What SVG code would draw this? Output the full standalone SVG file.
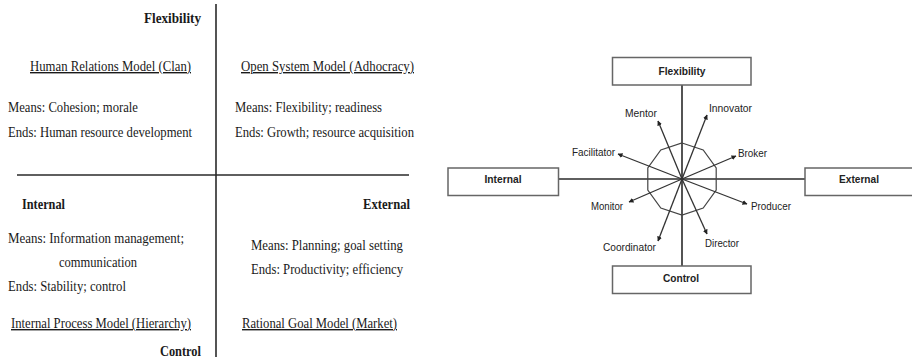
<svg xmlns="http://www.w3.org/2000/svg" width="912" height="360" viewBox="0 0 912 360">
<style>
.s{font-family:"Liberation Serif","Times New Roman",serif;font-size:14px;fill:#1a1a1a}
.sb{font-family:"Liberation Serif","Times New Roman",serif;font-size:14px;font-weight:bold;fill:#1a1a1a}
.u{text-decoration:underline}
.ax{stroke:#2a2a2a;stroke-width:1.6;fill:none}
.box{fill:#fff;stroke:#666;stroke-width:1.5}
.bl{font-family:"Liberation Sans",Arial,sans-serif;font-size:11px;font-weight:bold;fill:#222;text-anchor:middle}
.al{font-family:"Liberation Sans",Arial,sans-serif;font-size:10.5px;fill:#222}
.arr{stroke:#333;stroke-width:1.3;fill:none}
</style>
<defs>
<marker id="ah" viewBox="0 0 10 10" refX="9" refY="5" markerWidth="5" markerHeight="5" orient="auto" markerUnits="userSpaceOnUse">
<path d="M0,0 L10,5 L0,10 z" fill="#222"/>
</marker>
</defs>
<rect width="912" height="360" fill="#fff"/>

<g id="left-panel">
<line class="ax" x1="216" y1="4" x2="216" y2="357"/>
<line class="ax" x1="17" y1="175" x2="409" y2="175"/>
<text class="sb" x="201" y="23" text-anchor="end" textLength="57" lengthAdjust="spacingAndGlyphs">Flexibility</text>
<text class="s u" x="30" y="71" textLength="161" lengthAdjust="spacingAndGlyphs">Human Relations Model (Clan)</text>
<text class="s u" x="241" y="71" textLength="173" lengthAdjust="spacingAndGlyphs">Open System Model (Adhocracy)</text>
<text class="s" x="8" y="112" textLength="130" lengthAdjust="spacingAndGlyphs">Means: Cohesion; morale</text>
<text class="s" x="8" y="137" textLength="184" lengthAdjust="spacingAndGlyphs">Ends: Human resource development</text>
<text class="s" x="235" y="112" textLength="147" lengthAdjust="spacingAndGlyphs">Means: Flexibility; readiness</text>
<text class="s" x="235" y="137" textLength="179" lengthAdjust="spacingAndGlyphs">Ends: Growth; resource acquisition</text>
<text class="sb" x="22" y="209" textLength="43" lengthAdjust="spacingAndGlyphs">Internal</text>
<text class="sb" x="363" y="209" textLength="47" lengthAdjust="spacingAndGlyphs">External</text>
<text class="s" x="8" y="243" textLength="176" lengthAdjust="spacingAndGlyphs">Means: Information management;</text>
<text class="s" x="59" y="267" textLength="78" lengthAdjust="spacingAndGlyphs">communication</text>
<text class="s" x="8" y="291" textLength="118" lengthAdjust="spacingAndGlyphs">Ends: Stability; control</text>
<text class="s u" x="11" y="328" textLength="180" lengthAdjust="spacingAndGlyphs">Internal Process Model (Hierarchy)</text>
<text class="sb" x="201" y="356" text-anchor="end" textLength="41" lengthAdjust="spacingAndGlyphs">Control</text>
<text class="s" x="251" y="250" textLength="152" lengthAdjust="spacingAndGlyphs">Means: Planning; goal setting</text>
<text class="s" x="251" y="274" textLength="152" lengthAdjust="spacingAndGlyphs">Ends: Productivity; efficiency</text>
<text class="s u" x="242" y="328" textLength="155" lengthAdjust="spacingAndGlyphs">Rational Goal Model (Market)</text>
</g>

<g id="connectors">
<line class="ax" x1="682" y1="85" x2="682" y2="266"/>
<line class="ax" x1="558" y1="179" x2="805" y2="179"/>
<polygon points="682,143 703.2,149.9 716.2,167.9 716.2,190.1 703.2,208.1 682,215 660.8,208.1 647.8,190.1 647.8,167.9 660.8,149.9" fill="none" stroke="#444" stroke-width="1.2"/>
<line class="arr" x1="682" y1="179" x2="658" y2="121" marker-end="url(#ah)"/>
<line class="arr" x1="682" y1="179" x2="707" y2="115" marker-end="url(#ah)"/>
<line class="arr" x1="682" y1="179" x2="618" y2="154" marker-end="url(#ah)"/>
<line class="arr" x1="682" y1="179" x2="736" y2="156" marker-end="url(#ah)"/>
<line class="arr" x1="682" y1="179" x2="629" y2="202" marker-end="url(#ah)"/>
<line class="arr" x1="682" y1="179" x2="747" y2="204" marker-end="url(#ah)"/>
<line class="arr" x1="682" y1="179" x2="658" y2="241" marker-end="url(#ah)"/>
<line class="arr" x1="682" y1="179" x2="707" y2="234" marker-end="url(#ah)"/>
</g>

<g id="node-flexibility">
<rect class="box" x="612.5" y="57.5" width="138.5" height="27.5"/>
<text class="bl" x="682" y="75" textLength="47" lengthAdjust="spacingAndGlyphs">Flexibility</text>
</g>
<g id="node-internal">
<rect class="box" x="448" y="168" width="110.5" height="27.5"/>
<text class="bl" x="503" y="183" textLength="37" lengthAdjust="spacingAndGlyphs">Internal</text>
</g>
<g id="node-external">
<rect class="box" x="805" y="168" width="112" height="27.5"/>
<text class="bl" x="859" y="183" textLength="40" lengthAdjust="spacingAndGlyphs">External</text>
</g>
<g id="node-control">
<rect class="box" x="612.5" y="266" width="138.5" height="27.5"/>
<text class="bl" x="681" y="282" textLength="36" lengthAdjust="spacingAndGlyphs">Control</text>
</g>

<g id="node-mentor"><text class="al" x="625" y="117" textLength="32" lengthAdjust="spacingAndGlyphs">Mentor</text></g>
<g id="node-innovator"><text class="al" x="709" y="112" textLength="43" lengthAdjust="spacingAndGlyphs">Innovator</text></g>
<g id="node-facilitator"><text class="al" x="572" y="156" textLength="43" lengthAdjust="spacingAndGlyphs">Facilitator</text></g>
<g id="node-broker"><text class="al" x="738" y="157" textLength="29" lengthAdjust="spacingAndGlyphs">Broker</text></g>
<g id="node-monitor"><text class="al" x="591" y="210" textLength="32" lengthAdjust="spacingAndGlyphs">Monitor</text></g>
<g id="node-producer"><text class="al" x="751" y="210" textLength="40" lengthAdjust="spacingAndGlyphs">Producer</text></g>
<g id="node-coordinator"><text class="al" x="603" y="251" textLength="53" lengthAdjust="spacingAndGlyphs">Coordinator</text></g>
<g id="node-director"><text class="al" x="705" y="247" textLength="34" lengthAdjust="spacingAndGlyphs">Director</text></g>
</svg>
